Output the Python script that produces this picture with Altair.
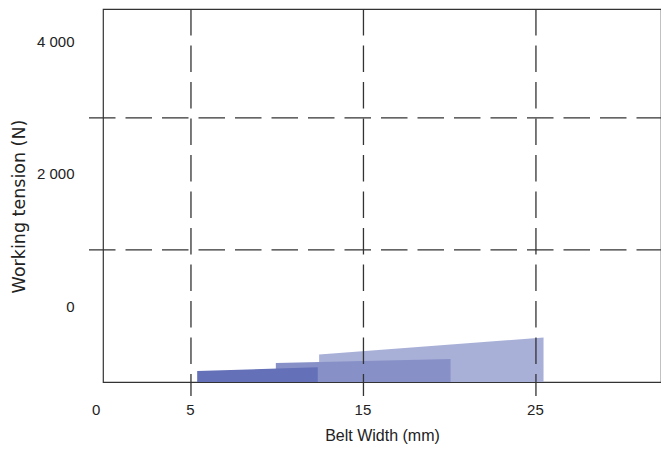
import altair as alt
import pandas as pd

# ---- data ----
series = ["Type C", "Type B", "Type A"]          # drawn back to front
x_start = [12.43, 9.92, 5.36]                    # belt width (mm)
x_end = [25.44, 20.05, 12.35]
y_start = [415, 288, 167]                        # working tension (N)
y_end = [673, 348, 223]
colors = ["#a9b0d8", "#8791c7", "#6470b7"]

x_grid = [5, 15, 25]
y_grid = [2000, 4000]
x_tick_values = [0, 5, 15, 25]
x_tick_labels = ["0", "5", "15", "25"]
y_tick_values = [0, 2000, 4000]
y_tick_labels = ["0", "2 000", "4 000"]

W, H = 558, 373
FONT = "Liberation Sans"
TXT = "#222222"
LINE = "#333333"


def label_expr(values, labels):
    expr = "''"
    for v, l in zip(reversed(values), reversed(labels)):
        expr = f"datum.value == {v} ? '{l}' : ({expr})"
    return expr


rows = []
for s, xs, xe, ys, ye in zip(series, x_start, x_end, y_start, y_end):
    rows.append({"series": s, "x": xs, "y": ys})
    rows.append({"series": s, "x": xe, "y": ye})
df = pd.DataFrame(rows)

xscale = alt.Scale(domain=[-0.1, 32.25], nice=False, zero=False)
yscale = alt.Scale(domain=[0, 5650], nice=False, zero=False)

x_axis = alt.Axis(
    values=x_tick_values,
    labelExpr=label_expr(x_tick_values, x_tick_labels),
    grid=False, ticks=False, tickSize=0, domain=False,
    labelPadding=20, labelFlush=False,
    labelOffset={"condition": {"test": "datum.value == 0", "value": -9}, "value": -1},
    labelFont=FONT, labelFontSize=15, labelColor=TXT,
    title="Belt Width (mm)", titleFont=FONT, titleFontSize=16,
    titleFontWeight="normal", titleColor=TXT, titlePadding=10,
)
y_axis = alt.Axis(
    values=y_tick_values,
    labelExpr=label_expr(y_tick_values, y_tick_labels),
    grid=False, ticks=False, tickSize=0, domain=False,
    labelPadding=29, labelOffset=-76,
    labelFont=FONT, labelFontSize=15, labelColor=TXT,
    title="Working tension (N)", titleFont="DejaVu Sans", titleFontSize=17.5,
    titleFontWeight="normal", titleColor=TXT, titlePadding=8, titleY=197,
)

layers = []
for s, c in zip(series, colors):
    layers.append(
        alt.Chart(df)
        .transform_filter(alt.datum.series == s)
        .mark_area(color=c, opacity=1)
        .encode(
            x=alt.X("x:Q", scale=xscale, axis=x_axis),
            y=alt.Y("y:Q", scale=yscale, stack=None, axis=y_axis),
        )
    )

vgrid = (
    alt.Chart(pd.DataFrame({"x": x_grid}))
    .mark_rule(color=LINE, strokeWidth=1.3, strokeDash=[26.5, 10])
    .encode(
        x=alt.X("x:Q", scale=xscale, axis=x_axis),
        y=alt.value(0),
        y2=alt.value(H + 14),
    )
)
hgrid = (
    alt.Chart(pd.DataFrame({"y": y_grid}))
    .mark_rule(color=LINE, strokeWidth=1.3, strokeDash=[26.5, 10])
    .encode(
        y=alt.Y("y:Q", scale=yscale, axis=y_axis),
        x=alt.value(-14),
        x2=alt.value(W),
    )
)

chart = (
    alt.layer(*layers, vgrid, hgrid)
    .properties(
        width=W,
        height=H,
        background="white",
        autosize=alt.AutoSizeParams(type="none"),
        padding={"left": 95, "top": 1, "right": 0, "bottom": 62},
    )
    .configure_view(stroke=LINE, strokeWidth=1.2)
)

chart.save("out.html", embed_options={"renderer": "svg", "actions": False})
